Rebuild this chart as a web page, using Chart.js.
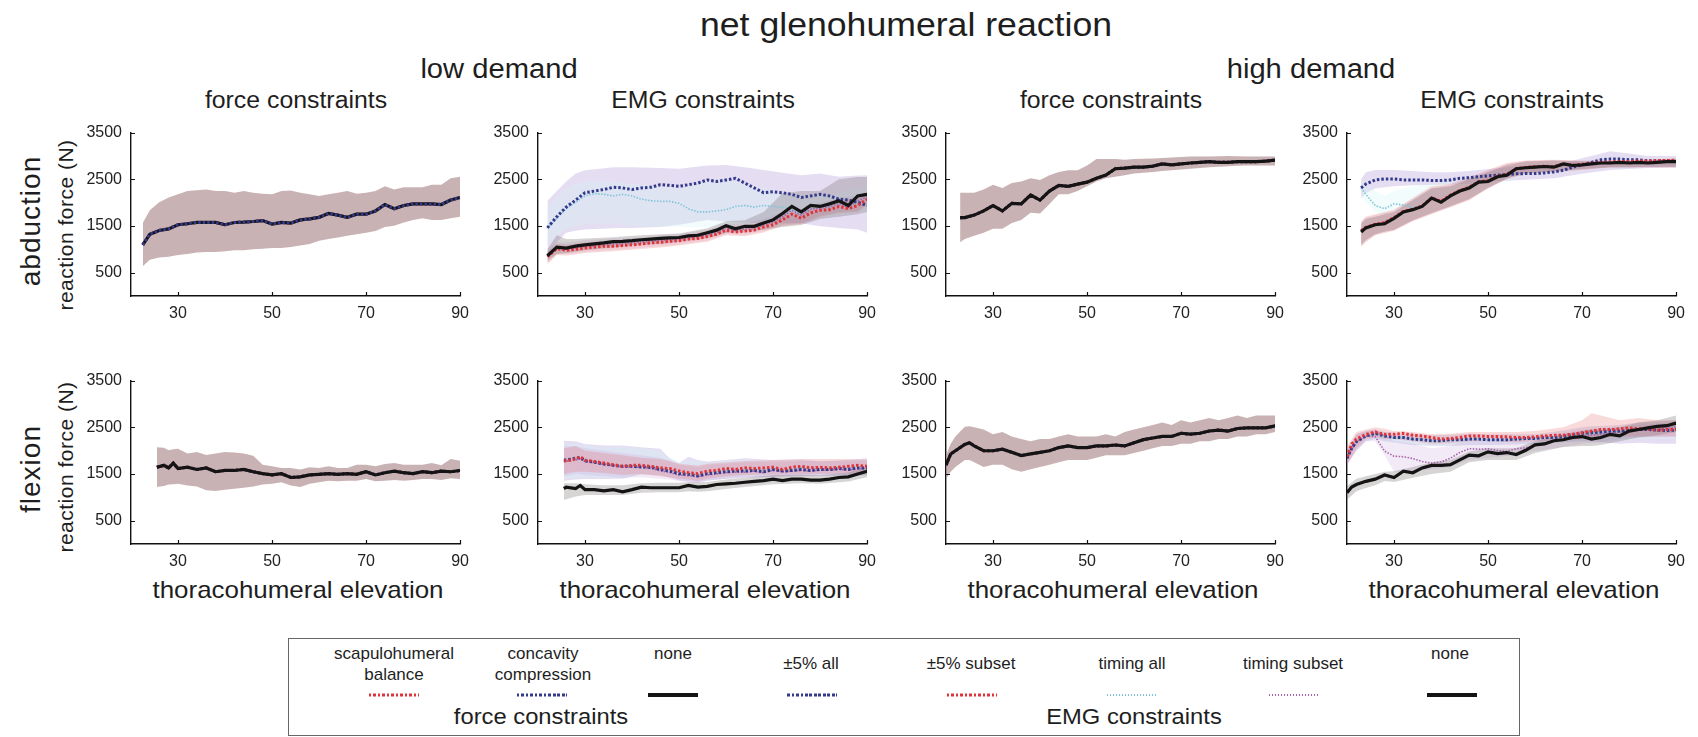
<!DOCTYPE html>
<html>
<head>
<meta charset="utf-8">
<title>net glenohumeral reaction</title>
<script src="https://cdn.jsdelivr.net/npm/chart.js@4.4.1/dist/chart.umd.min.js"></script>
<style>
  body { margin: 0; background: #fff; }
  #fig { position: relative; width: 1698px; height: 737px; overflow: hidden;
         font-family: 'Liberation Sans', Arial, sans-serif; color: #1e1e1e; }
  #fig canvas { position: absolute; }
  .t { position: absolute; white-space: nowrap; line-height: 1; transform: translate(-50%, -50%) scaleX(1.08); }
  .rot { position: absolute; white-space: nowrap; line-height: 1; transform: translate(-50%, -50%) rotate(-90deg); }
  .lt { position: absolute; white-space: nowrap; line-height: 1; font-size: 17px; transform: translate(-50%, -50%); }
  .ls { position: absolute; top: 695px; width: 50px; height: 3px; transform: translate(-50%, -50%); }
  .ls.red { background: repeating-linear-gradient(90deg, #e0343c 0 2.5px, transparent 2.5px 4.5px); }
  .ls.blue { background: repeating-linear-gradient(90deg, #343a8a 0 2.5px, transparent 2.5px 4.5px); }
  .ls.black { background: #141414; height: 4px; }
  .ls.cyan { height: 2px; background: repeating-linear-gradient(90deg, #7fc4d8 0 1.5px, transparent 1.5px 3px); }
  .ls.purple { height: 2px; background: repeating-linear-gradient(90deg, #a763ae 0 1.5px, transparent 1.5px 3px); }
  #legendBox { position: absolute; left: 288px; top: 638px; width: 1230px; height: 96px; border: 1.5px solid #666; }
</style>
</head>
<body>
<div id="fig">
  <div class="t" style="left:906px;top:24px;font-size:33px">net glenohumeral reaction</div>
  <div class="t" style="left:499px;top:69px;font-size:27px">low demand</div>
  <div class="t" style="left:1311px;top:69px;font-size:27px">high demand</div>

  <div class="t" style="left:296px;top:100px;font-size:23px">force constraints</div>
  <div class="t" style="left:703px;top:100px;font-size:23px">EMG constraints</div>
  <div class="t" style="left:1111px;top:100px;font-size:23px">force constraints</div>
  <div class="t" style="left:1512px;top:100px;font-size:23px">EMG constraints</div>

  <div class="rot" style="left:31px;top:221px;font-size:28px;letter-spacing:1px">abduction</div>
  <div class="rot" style="left:65px;top:225px;font-size:21px;letter-spacing:0.5px">reaction force (N)</div>
  <div class="rot" style="left:31px;top:469px;font-size:28px;letter-spacing:1px">flexion</div>
  <div class="rot" style="left:65px;top:467px;font-size:21px;letter-spacing:0.5px">reaction force (N)</div>

  <div class="t" style="left:298px;top:590px;font-size:24px">thoracohumeral elevation</div>
  <div class="t" style="left:705px;top:590px;font-size:24px">thoracohumeral elevation</div>
  <div class="t" style="left:1113px;top:590px;font-size:24px">thoracohumeral elevation</div>
  <div class="t" style="left:1514px;top:590px;font-size:24px">thoracohumeral elevation</div>

  <div id="legendBox"></div>
  <div class="lt" style="left:394px;top:653px">scapulohumeral</div>
  <div class="lt" style="left:394px;top:674px">balance</div>
  <div class="lt" style="left:543px;top:653px">concavity</div>
  <div class="lt" style="left:543px;top:674px">compression</div>
  <div class="lt" style="left:673px;top:653px">none</div>
  <div class="lt" style="left:811px;top:663px">±5% all</div>
  <div class="lt" style="left:971px;top:663px">±5% subset</div>
  <div class="lt" style="left:1132px;top:663px">timing all</div>
  <div class="lt" style="left:1293px;top:663px">timing subset</div>
  <div class="lt" style="left:1450px;top:653px">none</div>
  <span class="ls red" style="left:394px"></span>
  <span class="ls blue" style="left:542px"></span>
  <span class="ls black" style="left:673px"></span>
  <span class="ls blue" style="left:812px"></span>
  <span class="ls red" style="left:972px"></span>
  <span class="ls cyan" style="left:1132px"></span>
  <span class="ls purple" style="left:1294px"></span>
  <span class="ls black" style="left:1452px"></span>
  <div class="t" style="left:541px;top:717px;font-size:22px">force constraints</div>
  <div class="t" style="left:1134px;top:717px;font-size:22px">EMG constraints</div>
</div>

<script>
const FONT = "'Liberation Sans', Arial, sans-serif";

const xTicks = [30, 50, 70, 90];
const yTicks = [500, 1500, 2500, 3500];

// abduction, low demand, force constraints
const abdLowF_x = [22.5,24,26,28,30,32,34,36,38,40,42,44,46,48,50,52,54,56,58,60,62,64,66,68,70,72,74,76,78,80,82,84,86,88,90];
const abdLowF_none = [1096,1322,1404,1438,1527,1548,1575,1575,1575,1527,1575,1582,1596,1616,1541,1575,1562,1630,1651,1685,1767,1733,1685,1753,1753,1822,1959,1870,1938,1973,1973,1973,1959,2055,2110];
const abdLowF_hi = [1562,1836,2007,2110,2178,2247,2267,2281,2247,2247,2212,2247,2212,2192,2178,2247,2260,2212,2178,2144,2178,2212,2247,2192,2212,2247,2349,2281,2329,2329,2329,2384,2384,2521,2555];
const abdLowF_lo = [637,774,822,842,877,897,932,945,945,959,979,979,1000,1014,1027,1027,1048,1082,1116,1185,1219,1253,1288,1322,1356,1390,1479,1507,1575,1630,1664,1630,1630,1664,1699];

// abduction, low demand, EMG constraints
const abdLowE_x = [22,24,26,28,30,32,34,36,38,40,42,44,46,48,50,52,54,56,58,60,62,64,66,68,70,72,74,76,78,80,82,84,86,88,90];
const abdLowE_none = [863,1048,1027,1068,1096,1116,1137,1164,1171,1185,1205,1219,1233,1247,1253,1288,1301,1356,1411,1507,1438,1493,1493,1562,1630,1767,1918,1801,1938,1918,1973,2041,1938,2144,2178];
const abdLowE_sub = [842,1014,979,1000,1027,1048,1068,1068,1082,1096,1116,1137,1151,1171,1185,1219,1233,1274,1322,1411,1370,1390,1411,1479,1527,1630,1753,1664,1781,1836,1849,1918,1870,1938,2075];
const abdLowE_all = [1459,1699,1904,2055,2212,2247,2281,2329,2315,2281,2315,2329,2384,2370,2349,2384,2418,2486,2452,2486,2521,2418,2315,2212,2233,2212,2178,2110,2144,2178,2144,2075,2055,2007,1938];
const abdLowE_tAll = [1459,1664,1870,2007,2144,2192,2178,2144,2178,2144,2075,2041,2027,2027,1986,1870,1801,1801,1822,1849,1918,1938,1904,1938,1918,1904,1860,1750,1860,1880,1910,1980,1900,2040,2120];
const abdLowE_tSub = [850,1030,1000,1035,1060,1080,1100,1115,1125,1140,1160,1178,1192,1210,1220,1255,1268,1315,1365,1460,1405,1440,1450,1520,1580,1700,1835,1735,1860,1880,1910,1980,1900,2040,2120];
const abdLowE_bandX = [22,24,26,28,30,36,40,46,50,56,60,64,68,72,76,80,84,88,90];
const abdLowE_allHi = [2041,2247,2452,2623,2692,2760,2760,2740,2726,2795,2808,2760,2700,2640,2589,2623,2555,2580,2589];
const abdLowE_allLo = [877,1151,1356,1400,1425,1450,1459,1480,1527,1630,1596,1570,1562,1560,1560,1493,1459,1425,1356];
const abdLowE_tAllHi = [1900,2100,2300,2400,2450,2450,2400,2350,2300,2450,2500,2400,2300,2200,2150,2150,2200,2300,2300];
const abdLowE_tAllLo = [1100,1300,1450,1500,1550,1550,1500,1480,1480,1480,1500,1550,1600,1650,1650,1700,1750,1800,1800];
const abdLowE_subHi = [950,1120,1100,1120,1150,1180,1200,1250,1280,1380,1500,1500,1580,1750,1800,1950,2050,2100,2200];
const abdLowE_subLo = [680,880,870,890,920,960,990,1040,1080,1160,1300,1280,1360,1500,1540,1700,1780,1800,1950];
const abdLowE_tSubHi = [1000,1150,1150,1170,1200,1230,1250,1300,1330,1420,1550,1560,1650,1800,1850,2000,2100,2150,2250];
const abdLowE_tSubLo = [700,900,900,920,950,990,1020,1070,1110,1190,1330,1310,1390,1530,1570,1720,1800,1820,1970];
const abdLowE_noneHi = [1000,1300,1220,1220,1230,1260,1290,1320,1340,1450,1600,1620,1800,2200,2250,2250,2500,2550,2550];
const abdLowE_noneLo = [750,900,920,950,980,1040,1080,1120,1160,1240,1350,1380,1420,1480,1520,1650,1700,1750,1800];

// abduction, high demand, force constraints
const abdHighF_x = [23,24,26,28,30,32,34,36,38,40,42,44,46,48,50,52,54,56,58,60,62,64,66,68,70,72,74,76,78,80,82,84,86,88,90];
const abdHighF_none = [1678,1678,1733,1822,1938,1822,1986,1973,2164,2055,2247,2370,2349,2397,2438,2521,2589,2726,2740,2760,2760,2781,2829,2808,2829,2849,2863,2877,2863,2863,2877,2877,2877,2890,2911];
const abdHighF_hi = [2212,2212,2212,2281,2384,2315,2418,2452,2521,2486,2589,2658,2692,2692,2795,2932,2932,2932,2918,2932,2940,2945,2955,2966,2975,2986,2986,2986,2993,3000,2993,2986,2986,2986,2986];
const abdHighF_lo = [1151,1219,1288,1356,1438,1438,1562,1630,1781,1767,1973,2178,2178,2247,2349,2452,2521,2555,2589,2623,2640,2658,2675,2692,2710,2726,2743,2760,2770,2781,2788,2795,2795,2795,2795];

// abduction, high demand, EMG constraints
const abdHighE_x = [23,24,26,28,30,32,34,36,38,40,42,44,46,48,50,52,54,56,58,60,62,64,66,68,70,72,74,76,78,80,82,84,86,88,90];
const abdHighE_none = [1370,1459,1527,1548,1664,1801,1849,1918,2096,2007,2144,2247,2315,2438,2452,2555,2589,2726,2747,2760,2774,2760,2829,2795,2808,2829,2849,2849,2863,2849,2863,2849,2863,2877,2877];
const abdHighE_sub = [1400,1470,1540,1570,1680,1810,1860,1930,2100,2030,2160,2260,2330,2450,2470,2570,2600,2730,2750,2770,2780,2770,2830,2800,2820,2840,2860,2870,2880,2880,2890,2890,2900,2900,2910];
const abdHighE_all = [2315,2397,2486,2507,2507,2486,2486,2486,2473,2473,2486,2521,2534,2555,2575,2589,2603,2616,2623,2623,2637,2658,2692,2760,2808,2863,2918,2932,2932,2918,2918,2897,2897,2897,2897];
const abdHighE_tAll = [2315,2178,1938,1870,1973,1950,1900,1930,2090,2020,2150,2250,2320,2440,2460,2560,2595,2720,2745,2760,2775,2765,2825,2800,2815,2835,2855,2860,2870,2865,2875,2870,2880,2890,2895];
const abdHighE_tSub = [1380,1465,1535,1560,1670,1805,1855,1925,2098,2015,2150,2255,2320,2444,2460,2560,2595,2728,2748,2765,2777,2765,2829,2798,2812,2833,2852,2858,2868,2862,2872,2866,2878,2886,2890];
const abdHighE_bandX = [23,24,26,28,30,34,38,42,46,50,54,58,64,70,76,80,84,90];
const abdHighE_allHi = [2500,2650,2700,2700,2700,2680,2650,2650,2680,2720,2760,2780,2800,2950,3100,3050,3000,3000];
const abdHighE_allLo = [2100,2200,2300,2330,2350,2370,2380,2390,2410,2450,2470,2490,2520,2620,2700,2720,2740,2750];
const abdHighE_tAllHi = [2450,2400,2250,2150,2250,2350,2400,2450,2550,2650,2750,2850,2880,2900,2920,2920,2930,2950];
const abdHighE_tAllLo = [2150,2000,1800,1750,1850,1950,2050,2150,2250,2350,2450,2600,2650,2700,2750,2750,2750,2750];
const abdHighE_subHi = [1600,1700,1750,1800,1850,2100,2350,2400,2550,2700,2850,2900,2920,2900,2900,2900,2920,2950];
const abdHighE_subLo = [1050,1150,1300,1350,1400,1600,1750,1900,2050,2300,2500,2620,2650,2700,2750,2750,2750,2750];
const abdHighE_tSubHi = [1580,1680,1730,1780,1830,2080,2320,2380,2520,2680,2830,2890,2910,2890,2890,2890,2910,2940];
const abdHighE_tSubLo = [1080,1180,1310,1370,1410,1610,1770,1910,2070,2310,2510,2630,2660,2710,2755,2755,2760,2760];
const abdHighE_noneHi = [1550,1650,1700,1750,1800,2050,2300,2350,2500,2650,2800,2880,2900,2880,2880,2880,2900,2930];
const abdHighE_noneLo = [1100,1200,1320,1380,1420,1620,1780,1920,2080,2320,2520,2640,2670,2720,2760,2760,2770,2770];

// flexion, low demand, force constraints
const flxLowF_x = [25.5,27,28,29,30,32,34,36,38,40,42,44,46,48,50,52,54,56,58,60,62,64,66,68,70,72,74,76,78,80,82,84,86,88,90];
const flxLowF_none = [1644,1685,1630,1733,1616,1644,1596,1630,1548,1575,1575,1596,1548,1507,1479,1507,1425,1438,1479,1493,1507,1493,1507,1493,1548,1479,1527,1562,1527,1507,1548,1527,1562,1548,1575];
const flxLowF_hi = [2075,2060,2007,2030,2041,1938,1973,1904,1938,1973,1960,1938,1890,1699,1664,1630,1630,1596,1644,1630,1664,1630,1630,1699,1699,1664,1712,1733,1699,1699,1699,1733,1685,1822,1781];
const flxLowF_lo = [1219,1240,1274,1280,1288,1253,1233,1151,1137,1164,1185,1205,1233,1274,1288,1322,1253,1219,1288,1322,1356,1342,1356,1356,1390,1342,1356,1370,1356,1370,1390,1390,1370,1411,1390];

// flexion, low demand, EMG constraints
const flxLowE_x = [25.5,26,28,29,30,32,34,36,38,40,42,44,46,48,50,52,54,56,58,60,62,64,66,68,70,72,74,76,78,80,82,84,86,88,90];
const flxLowE_none = [1185,1219,1185,1253,1164,1164,1137,1164,1116,1164,1219,1205,1205,1205,1205,1253,1219,1233,1274,1288,1301,1322,1342,1356,1390,1356,1390,1390,1370,1370,1390,1425,1438,1500,1560];
const flxLowE_sub = [1781,1781,1822,1870,1795,1767,1733,1699,1664,1685,1685,1664,1630,1616,1562,1527,1507,1562,1575,1616,1596,1630,1616,1630,1644,1596,1644,1664,1630,1644,1630,1644,1664,1685,1664];
const flxLowE_all = [1801,1801,1836,1850,1781,1753,1712,1685,1664,1664,1650,1644,1596,1562,1507,1493,1459,1507,1527,1548,1562,1562,1575,1548,1596,1562,1575,1596,1575,1596,1596,1616,1596,1630,1630];
const flxLowE_tAll = [1790,1790,1830,1860,1790,1760,1720,1690,1664,1675,1668,1654,1613,1590,1535,1510,1483,1535,1550,1582,1580,1596,1596,1590,1620,1580,1610,1630,1602,1620,1613,1630,1630,1657,1647];
const flxLowE_tSub = [1760,1770,1800,1830,1760,1740,1700,1680,1650,1650,1640,1620,1570,1530,1480,1460,1440,1480,1500,1530,1540,1540,1560,1530,1580,1550,1560,1580,1560,1580,1580,1600,1580,1610,1620];
const flxLowE_bandX = [25.5,28,30,34,38,42,46,48,50,52,54,56,60,64,70,76,80,86,90];
const flxLowE_allHi = [2212,2200,2144,2110,2110,2075,2041,1836,1733,1870,1800,1767,1801,1836,1801,1810,1767,1800,1836];
const flxLowE_allLo = [1356,1380,1390,1390,1400,1493,1470,1420,1360,1340,1322,1360,1400,1425,1440,1450,1460,1460,1470];
const flxLowE_tAllHi = [2150,2150,2100,2080,2080,2050,2000,1850,1750,1800,1780,1750,1780,1800,1790,1800,1780,1790,1800];
const flxLowE_tAllLo = [1400,1420,1420,1420,1430,1480,1480,1450,1400,1380,1360,1380,1420,1440,1460,1470,1480,1480,1490];
const flxLowE_subHi = [2050,2100,2000,1950,1900,1850,1820,1780,1720,1700,1680,1720,1750,1780,1800,1820,1820,1820,1810];
const flxLowE_subLo = [1500,1550,1550,1520,1480,1500,1450,1430,1400,1380,1350,1400,1450,1480,1490,1500,1500,1510,1520];
const flxLowE_tSubHi = [2100,2100,2050,2000,1950,1900,1850,1780,1700,1680,1650,1700,1720,1750,1760,1780,1780,1790,1790];
const flxLowE_tSubLo = [1450,1500,1480,1450,1420,1430,1400,1380,1350,1330,1300,1350,1400,1420,1440,1460,1460,1470,1480];
const flxLowE_noneHi = [1300,1300,1280,1260,1260,1300,1310,1310,1310,1330,1320,1330,1380,1420,1480,1490,1470,1530,1650];
const flxLowE_noneLo = [945,1020,1050,1050,1050,1100,1110,1110,1110,1130,1120,1130,1180,1220,1280,1300,1290,1340,1430];

// flexion, high demand, force constraints
const flxHighF_x = [20,21,22,24,25,26,28,30,32,34,36,38,40,42,44,46,48,50,52,54,56,58,60,62,64,66,68,70,72,74,76,78,80,82,84,86,88,90];
const flxHighF_none = [1690,1929,1997,2134,2168,2100,1997,1997,2031,1963,1895,1929,1963,1997,2065,2100,2065,2065,2100,2100,2120,2100,2168,2236,2270,2304,2304,2372,2352,2372,2420,2440,2420,2474,2488,2488,2488,2529];
const flxHighF_hi = [1900,2150,2300,2509,2520,2500,2450,2350,2400,2300,2250,2200,2250,2250,2300,2350,2300,2300,2300,2350,2300,2400,2450,2500,2550,2600,2550,2650,2600,2650,2700,2650,2700,2750,2700,2750,2750,2750];
const flxHighF_lo = [1400,1550,1650,1800,1800,1750,1650,1700,1700,1600,1550,1600,1650,1700,1750,1800,1800,1800,1850,1900,1900,1900,1950,2000,2050,2100,2100,2150,2150,2200,2200,2250,2250,2300,2300,2350,2350,2400];

// flexion, high demand, EMG constraints
const flxHighE_x = [20,21,22,24,26,28,30,32,34,36,38,40,42,44,46,48,50,52,54,56,58,60,62,64,66,68,70,72,74,76,78,80,82,84,86,88,90];
const flxHighE_none = [1096,1219,1274,1342,1390,1479,1425,1562,1527,1630,1685,1685,1699,1801,1904,1890,1973,1938,1959,1918,2007,2123,2144,2212,2233,2281,2301,2247,2281,2349,2315,2418,2452,2486,2521,2534,2589];
const flxHighE_sub = [1870,2144,2247,2349,2397,2349,2349,2370,2329,2315,2281,2247,2260,2281,2315,2315,2301,2301,2295,2281,2281,2295,2315,2329,2329,2349,2384,2418,2452,2452,2466,2486,2466,2466,2438,2452,2452];
const flxHighE_all = [1836,2050,2192,2315,2370,2315,2281,2281,2247,2233,2212,2212,2233,2233,2247,2247,2233,2233,2233,2247,2260,2260,2281,2281,2301,2329,2370,2384,2397,2418,2418,2438,2452,2452,2438,2432,2438];
const flxHighE_tAll = [1850,2080,2200,2320,2360,2300,2270,2270,2240,2230,2210,2200,2220,2225,2240,2240,2230,2225,2225,2240,2250,2255,2275,2280,2295,2320,2360,2375,2390,2410,2410,2430,2445,2450,2440,2440,2445];
const flxHighE_tSub = [1836,2030,2180,2315,2300,1990,1880,1870,1830,1767,1733,1760,1836,1960,2041,2030,2041,2000,1986,2041,2060,2110,2164,2212,2247,2281,2315,2329,2349,2384,2397,2418,2438,2452,2452,2486,2500];
const flxHighE_bandX = [20,22,24,26,28,30,34,38,42,46,50,56,60,66,70,72,74,78,82,86,90];
const flxHighE_subHi = [2100,2400,2450,2500,2470,2420,2400,2350,2360,2400,2400,2400,2420,2500,2650,2800,2750,2650,2700,2650,2650];
const flxHighE_subLo = [1700,2050,2250,2280,2250,2250,2200,2150,2160,2200,2200,2180,2200,2220,2250,2280,2280,2300,2300,2300,2300];
const flxHighE_allHi = [2000,2350,2420,2450,2400,2380,2350,2330,2340,2360,2350,2350,2350,2430,2500,2520,2530,2550,2600,2620,2650];
const flxHighE_allLo = [1700,2000,2200,2250,2200,2180,2120,2100,2100,2120,2120,2130,2150,2180,2200,2200,2180,2150,2170,2150,2150];
const flxHighE_tAllHi = [1950,2300,2400,2450,2400,2380,2340,2320,2330,2350,2340,2350,2360,2420,2480,2500,2520,2540,2580,2600,2620];
const flxHighE_tAllLo = [1750,2050,2220,2250,2200,2170,2130,2110,2110,2130,2130,2140,2160,2190,2210,2220,2220,2220,2240,2250,2250];
const flxHighE_tSubHi = [2000,2350,2420,2450,2350,2200,2150,2050,2100,2250,2200,2250,2300,2380,2450,2470,2480,2500,2550,2580,2600];
const flxHighE_tSubLo = [1700,2000,2200,2200,1900,1550,1550,1600,1650,1800,1850,1900,2000,2080,2150,2170,2180,2250,2280,2290,2300];
const flxHighE_noneHi = [1250,1400,1450,1500,1550,1560,1650,1750,1800,1980,2050,2050,2200,2350,2420,2450,2450,2500,2600,2650,2750];
const flxHighE_noneLo = [950,1130,1200,1260,1350,1330,1420,1500,1550,1750,1800,1800,1950,2080,2100,2100,2120,2200,2280,2330,2400];

// line looks per solution type
const lineStyles = {
  none: { borderColor: '#141414', borderWidth: 3.2 },
  scap: { borderColor: '#e0343c', borderWidth: 3, borderDash: [2.5, 2] },
  conc: { borderColor: '#343a8a', borderWidth: 3, borderDash: [2.5, 2] },
  all:  { borderColor: '#343a8a', borderWidth: 3, borderDash: [2.5, 2] },
  sub:  { borderColor: '#e0343c', borderWidth: 3, borderDash: [2.5, 2] },
  tAll: { borderColor: '#7fc4d8', borderWidth: 1.6, borderDash: [1.5, 1.5] },
  tSub: { borderColor: '#a763ae', borderWidth: 1.6, borderDash: [1.5, 1.5] }
};
const bandColors = {
  force: 'rgba(170,135,137,0.64)',
  none: 'rgba(110,100,100,0.28)',
  sub:  'rgba(232,112,112,0.26)',
  tSub: 'rgba(190,150,210,0.20)',
  all:  'rgba(168,146,212,0.30)',
  tAll: 'rgba(210,244,244,0.28)'
};

const PLOT_W = 330, PLOT_H = 170;

// the three force-constraint solutions coincide, so they share one trace and one spread
const panels = [
  { left: 131, top: 126, x: abdLowF_x,
    lines: [['scap', abdLowF_none], ['none', abdLowF_none], ['conc', abdLowF_none]],
    bands: [[abdLowF_x, abdLowF_lo, abdLowF_hi, 'force']] },
  { left: 538, top: 126, x: abdLowE_x,
    lines: [['tAll', abdLowE_tAll], ['tSub', abdLowE_tSub], ['all', abdLowE_all], ['sub', abdLowE_sub], ['none', abdLowE_none]],
    bands: [[abdLowE_bandX, abdLowE_allLo, abdLowE_allHi, 'all'], [abdLowE_bandX, abdLowE_tAllLo, abdLowE_tAllHi, 'tAll'],
            [abdLowE_bandX, abdLowE_tSubLo, abdLowE_tSubHi, 'tSub'], [abdLowE_bandX, abdLowE_subLo, abdLowE_subHi, 'sub'],
            [abdLowE_bandX, abdLowE_noneLo, abdLowE_noneHi, 'none']] },
  { left: 946, top: 126, x: abdHighF_x,
    lines: [['scap', abdHighF_none], ['conc', abdHighF_none], ['none', abdHighF_none]],
    bands: [[abdHighF_x, abdHighF_lo, abdHighF_hi, 'force']] },
  { left: 1347, top: 126, x: abdHighE_x,
    lines: [['tAll', abdHighE_tAll], ['tSub', abdHighE_tSub], ['all', abdHighE_all], ['sub', abdHighE_sub], ['none', abdHighE_none]],
    bands: [[abdHighE_bandX, abdHighE_allLo, abdHighE_allHi, 'all'], [abdHighE_bandX, abdHighE_tAllLo, abdHighE_tAllHi, 'tAll'],
            [abdHighE_bandX, abdHighE_tSubLo, abdHighE_tSubHi, 'tSub'], [abdHighE_bandX, abdHighE_subLo, abdHighE_subHi, 'sub'],
            [abdHighE_bandX, abdHighE_noneLo, abdHighE_noneHi, 'none']] },
  { left: 131, top: 374, x: flxLowF_x,
    lines: [['scap', flxLowF_none], ['conc', flxLowF_none], ['none', flxLowF_none]],
    bands: [[flxLowF_x, flxLowF_lo, flxLowF_hi, 'force']] },
  { left: 538, top: 374, x: flxLowE_x,
    lines: [['tAll', flxLowE_tAll], ['tSub', flxLowE_tSub], ['all', flxLowE_all], ['sub', flxLowE_sub], ['none', flxLowE_none]],
    bands: [[flxLowE_bandX, flxLowE_allLo, flxLowE_allHi, 'all'], [flxLowE_bandX, flxLowE_tAllLo, flxLowE_tAllHi, 'tAll'],
            [flxLowE_bandX, flxLowE_tSubLo, flxLowE_tSubHi, 'tSub'], [flxLowE_bandX, flxLowE_subLo, flxLowE_subHi, 'sub'],
            [flxLowE_bandX, flxLowE_noneLo, flxLowE_noneHi, 'none']] },
  { left: 946, top: 374, x: flxHighF_x,
    lines: [['scap', flxHighF_none], ['conc', flxHighF_none], ['none', flxHighF_none]],
    bands: [[flxHighF_x, flxHighF_lo, flxHighF_hi, 'force']] },
  { left: 1347, top: 374, x: flxHighE_x,
    lines: [['tAll', flxHighE_tAll], ['tSub', flxHighE_tSub], ['all', flxHighE_all], ['sub', flxHighE_sub], ['none', flxHighE_none]],
    bands: [[flxHighE_bandX, flxHighE_allLo, flxHighE_allHi, 'all'], [flxHighE_bandX, flxHighE_tAllLo, flxHighE_tAllHi, 'tAll'],
            [flxHighE_bandX, flxHighE_tSubLo, flxHighE_tSubHi, 'tSub'], [flxHighE_bandX, flxHighE_subLo, flxHighE_subHi, 'sub'],
            [flxHighE_bandX, flxHighE_noneLo, flxHighE_noneHi, 'none']] }
];

function pts(xs, ys) {
  return xs.map((x, i) => ({ x: x, y: ys[i] }));
}

// matlab style tick marks pointing into the axes
const innerTicks = {
  id: 'innerTicks',
  afterDatasetsDraw(chart) {
    const { ctx, chartArea: a, scales: { x, y } } = chart;
    ctx.save();
    ctx.strokeStyle = '#111';
    ctx.lineWidth = 1.2;
    ctx.beginPath();
    xTicks.forEach(v => {
      const px = Math.round(x.getPixelForValue(v)) + 0.5;
      ctx.moveTo(px, a.bottom); ctx.lineTo(px, a.bottom - 4);
    });
    yTicks.forEach(v => {
      const py = Math.round(y.getPixelForValue(v)) + 0.5;
      ctx.moveTo(a.left, py); ctx.lineTo(a.left + 4, py);
    });
    ctx.stroke();
    ctx.restore();
  }
};

function makePanel(p) {
  const cv = document.createElement('canvas');
  cv.width = PLOT_W + 76;
  cv.height = PLOT_H + 44;
  cv.style.left = (p.left - 60) + 'px';
  cv.style.top = (p.top - 12) + 'px';
  document.getElementById('fig').appendChild(cv);

  const datasets = [];
  p.bands.forEach(([bx, lo, hi, key], i) => {
    const base = datasets.length;
    datasets.push({ data: pts(bx, lo), borderWidth: 0, borderColor: 'transparent', pointRadius: 0, fill: false, order: 200 - i });
    datasets.push({ data: pts(bx, hi), borderWidth: 0, borderColor: 'transparent', pointRadius: 0,
                    fill: base, backgroundColor: bandColors[key], order: 200 - i });
  });
  p.lines.forEach(([key, ys], i) => {
    datasets.push(Object.assign({ data: pts(p.x, ys), pointRadius: 0, fill: false, tension: 0,
                                  order: p.lines.length - i }, lineStyles[key]));
  });

  const tickFont = { family: FONT, size: 16 };
  new Chart(cv, {
    type: 'line',
    data: { datasets: datasets },
    plugins: [innerTicks],
    options: {
      responsive: false,
      animation: false,
      devicePixelRatio: 1,
      layout: { padding: { top: 12, right: 16, left: 0, bottom: 0 } },
      plugins: { legend: { display: false }, tooltip: { enabled: false } },
      scales: {
        x: {
          type: 'linear', min: 20, max: 90,
          afterBuildTicks: s => { s.ticks = xTicks.map(v => ({ value: v })); },
          afterFit: s => { s.height = 32; },
          grid: { display: false, drawTicks: false },
          border: { display: true, color: '#111', width: 1.4 },
          ticks: { padding: 8, color: '#222', font: tickFont, autoSkip: false, maxRotation: 0, callback: v => String(v) }
        },
        y: {
          type: 'linear', min: 0, max: 3500,
          afterBuildTicks: s => { s.ticks = yTicks.map(v => ({ value: v })); },
          afterFit: s => { s.width = 60; },
          grid: { display: false, drawTicks: false },
          border: { display: true, color: '#111', width: 1.4 },
          ticks: { padding: 9, color: '#222', font: tickFont, autoSkip: false, callback: v => String(v) }
        }
      }
    }
  });
}

panels.forEach(makePanel);
</script>
</body>
</html>
